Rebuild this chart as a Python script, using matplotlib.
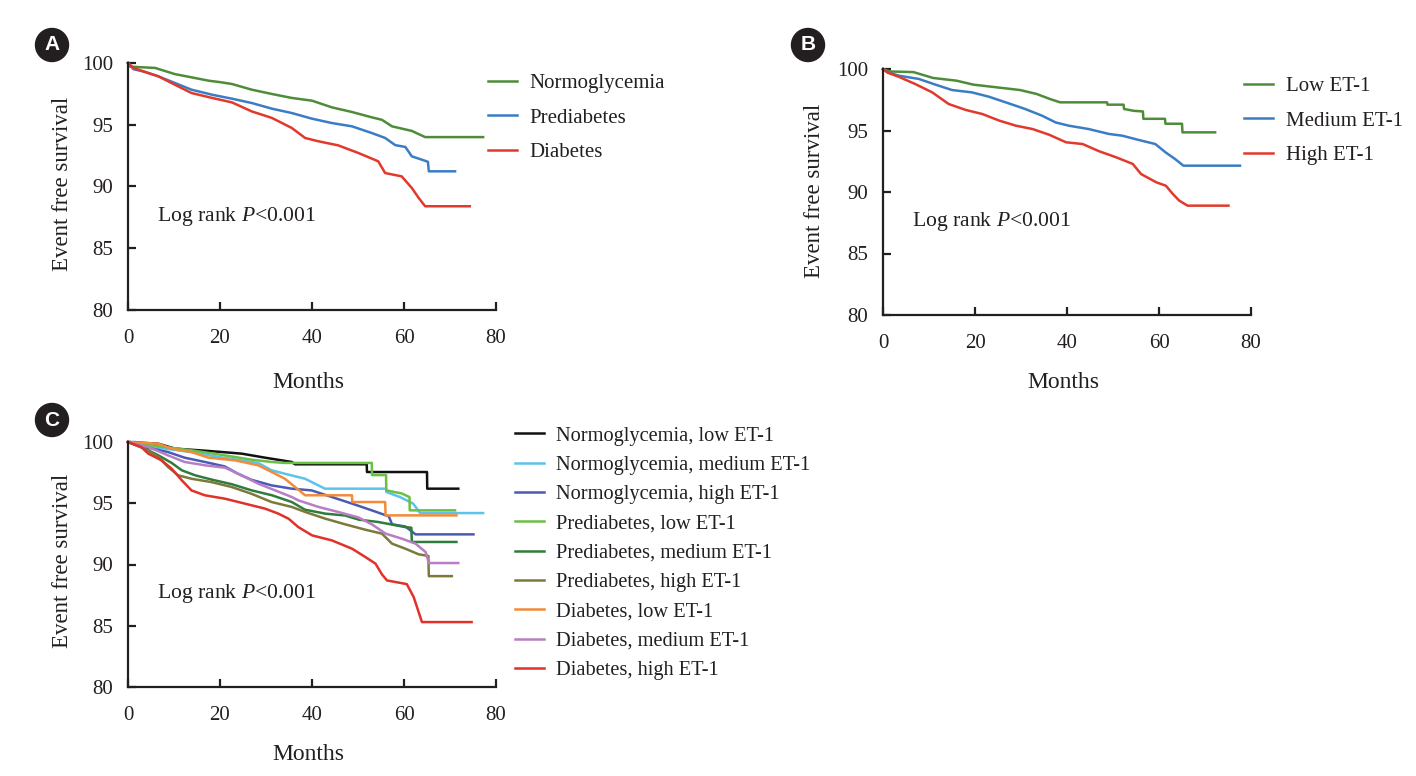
import numpy as np
import matplotlib
matplotlib.use("Agg")
import matplotlib.pyplot as plt
from matplotlib.patches import Circle

plt.rcParams['font.family'] = ['Liberation Serif', 'DejaVu Serif']
plt.rcParams['mathtext.fontset'] = 'custom'
plt.rcParams['mathtext.rm'] = 'Liberation Serif'
plt.rcParams['mathtext.it'] = 'Liberation Serif:italic'

#~~~~~~~~~~~~~~~~~~~~~~~~~1. Panel A : glycemic status~~~~~~~~~~~~~~~~~~~~~~~~~
# (time, survival) vertices; repeated times = vertical steps
a_labels = ["Normoglycemia", "Prediabetes", "Diabetes"]
a_colors = ['#4e8c3a', '#3b7dc4', '#e2392c']
a_t_normo = [0, 0.5, 5.9, 10.2, 13.8, 17.5, 20.0, 22.6, 26.9, 31.3, 35.6, 40.0, 44.3, 48.7, 53.0, 55.2, 57.4, 61.7, 64.6, 77.2]
a_s_normo = [100, 99.7, 99.6, 99.1, 98.84, 98.57, 98.45, 98.3, 97.84, 97.49, 97.17, 96.95, 96.41, 96.03, 95.6, 95.4, 94.87, 94.5, 94.0, 94.0]
a_t_pre = [0, 1.2, 3.5, 6.6, 10.2, 13.8, 18.3, 22.6, 26.9, 31.3, 35.6, 40.0, 44.3, 48.7, 53.0, 55.9, 58.1, 60.3, 61.7, 63.9, 65.2, 65.4, 71.1]
a_s_pre = [100, 99.5, 99.3, 98.92, 98.38, 97.84, 97.43, 97.11, 96.76, 96.3, 95.95, 95.49, 95.14, 94.87, 94.33, 93.93, 93.35, 93.2, 92.44, 92.17, 92.0, 91.23, 91.23]
a_t_dia = [0, 1.2, 3.5, 6.6, 10.2, 13.8, 18.3, 22.6, 26.9, 31.3, 35.6, 38.5, 41.4, 45.7, 50.1, 54.4, 55.9, 59.5, 61.7, 63.2, 64.6, 74.3]
a_s_dia = [100, 99.6, 99.3, 98.92, 98.24, 97.57, 97.17, 96.81, 96.08, 95.55, 94.74, 93.93, 93.66, 93.33, 92.71, 92.04, 91.09, 90.82, 89.88, 89.07, 88.4, 88.4]

#~~~~~~~~~~~~~~~~~~~~~~~~~2. Panel B : ET-1 tertiles~~~~~~~~~~~~~~~~~~~~~~~~~~~~
b_labels = ["Low ET-1", "Medium ET-1", "High ET-1"]
b_colors = ['#4e8c3a', '#3b7dc4', '#e2392c']
b_t_low = [0, 1.5, 6.6, 10.9, 16.0, 19.6, 24.7, 29.8, 33.4, 36.3, 38.5, 48.7, 48.8, 52.3, 52.4, 54.5, 56.5, 56.6, 61.3, 61.4, 65.0, 65.1, 72.2]
b_s_low = [100, 99.8, 99.75, 99.27, 99.05, 98.73, 98.51, 98.29, 97.97, 97.56, 97.29, 97.29, 97.1, 97.1, 96.75, 96.6, 96.55, 95.95, 95.95, 95.55, 95.55, 94.85, 94.85]
b_t_med = [0, 1.0, 3.4, 7.8, 11.4, 15.0, 19.3, 23.0, 27.3, 30.9, 34.6, 37.5, 40.4, 44.7, 49.1, 52.0, 55.6, 59.2, 61.4, 63.5, 65.3, 77.6]
b_s_med = [100, 99.75, 99.46, 99.19, 98.73, 98.29, 98.1, 97.75, 97.21, 96.75, 96.2, 95.66, 95.39, 95.12, 94.72, 94.58, 94.23, 93.9, 93.23, 92.68, 92.14, 92.14]
b_t_high = [0, 1.0, 3.4, 7.0, 10.7, 14.3, 18.0, 21.6, 25.3, 28.9, 32.5, 36.1, 39.8, 43.4, 47.0, 50.7, 54.3, 56.1, 59.4, 61.5, 63.0, 64.4, 66.2, 75.1]
b_s_high = [100, 99.7, 99.37, 98.78, 98.1, 97.15, 96.67, 96.34, 95.8, 95.39, 95.12, 94.66, 94.04, 93.9, 93.31, 92.82, 92.28, 91.46, 90.79, 90.51, 89.84, 89.3, 88.89, 88.89]

#~~~~~~~~~~~~~~~~~~~~~~~~~3. Panel C : combined groups~~~~~~~~~~~~~~~~~~~~~~~~~~~
c_labels = ["Normoglycemia, low ET-1", "Normoglycemia, medium ET-1", "Normoglycemia, high ET-1",
            "Prediabetes, low ET-1", "Prediabetes, medium ET-1", "Prediabetes, high ET-1",
            "Diabetes, low ET-1", "Diabetes, medium ET-1", "Diabetes, high ET-1"]
c_colors = ['#111111', '#5cc3ea', '#4a5bb4', '#6bbf45', '#2f7d3b', '#7b7a3a', '#f28b3b', '#b97dc5', '#e2312a']
c_times = [
    [0, 6.6, 10.2, 17.5, 24.7, 29.8, 35.6, 36.3, 51.9, 51.95, 65.0, 65.05, 71.8],
    [0, 2.9, 8.0, 13.8, 19.6, 24.7, 28.3, 31.2, 34.1, 38.5, 42.8, 56.1, 56.15, 59.1, 62.0, 63.5, 77.2],
    [0, 3.6, 8.7, 12.3, 16.7, 21.0, 23.9, 26.8, 31.2, 35.6, 39.9, 44.3, 48.7, 53.0, 56.7, 57.4, 60.3, 62.5, 75.1],
    [0, 5.1, 13.8, 21.0, 26.8, 31.2, 34.1, 53.0, 53.05, 56.1, 56.15, 59.5, 61.2, 61.25, 71.1],
    [0, 3.6, 6.6, 9.5, 11.7, 14.6, 18.3, 22.6, 26.9, 31.3, 35.6, 38.5, 42.9, 47.2, 50.2, 54.4, 60.2, 61.6, 61.7, 71.4],
    [0, 3.6, 6.6, 8.7, 10.9, 13.8, 18.1, 22.5, 26.8, 31.2, 35.6, 38.5, 42.9, 47.2, 51.6, 55.2, 57.4, 60.3, 63.2, 65.3, 65.4, 70.4],
    [0, 6.6, 9.5, 13.8, 17.5, 23.3, 28.3, 32.0, 34.1, 36.3, 38.5, 48.7, 48.75, 55.9, 56.0, 71.4],
    [0, 4.4, 8.7, 12.3, 16.7, 21.1, 24.7, 28.3, 32.0, 35.6, 37.0, 41.4, 45.7, 50.1, 53.0, 56.0, 59.6, 62.5, 64.7, 65.4, 71.8],
    [0, 2.9, 4.4, 7.3, 9.5, 11.7, 13.8, 16.7, 21.1, 25.4, 29.8, 32.7, 34.9, 37.0, 40.0, 44.3, 48.7, 51.6, 53.8, 55.2, 56.3, 60.6, 62.1, 63.9, 74.7],
]
c_surv = [
    [100, 99.86, 99.46, 99.27, 99.05, 98.72, 98.37, 98.18, 98.18, 97.55, 97.55, 96.19, 96.19],
    [100, 99.73, 99.46, 99.18, 98.78, 98.5, 98.29, 97.69, 97.41, 97.0, 96.19, 96.19, 95.92, 95.51, 94.97, 94.2, 94.2],
    [100, 99.59, 99.18, 98.72, 98.37, 98.01, 97.41, 96.92, 96.46, 96.19, 96.05, 95.51, 94.97, 94.42, 93.93, 93.28, 93.1, 92.46, 92.46],
    [100, 99.73, 99.32, 98.91, 98.56, 98.37, 98.29, 98.29, 97.3, 97.3, 96.05, 95.8, 95.5, 94.42, 94.42],
    [100, 99.46, 98.91, 98.29, 97.69, 97.28, 96.92, 96.55, 96.05, 95.65, 95.1, 94.47, 94.15, 94.0, 93.66, 93.47, 93.06, 93.0, 91.84, 91.84],
    [100, 99.46, 98.78, 97.96, 97.28, 97.0, 96.73, 96.33, 95.78, 95.1, 94.7, 94.29, 93.74, 93.28, 92.84, 92.52, 91.7, 91.29, 90.83, 90.7, 89.05, 89.05],
    [100, 99.86, 99.46, 99.18, 98.72, 98.5, 98.1, 97.41, 97.0, 96.33, 95.65, 95.65, 95.1, 95.1, 94.01, 94.01],
    [100, 99.59, 98.91, 98.37, 98.1, 97.9, 97.28, 96.6, 96.05, 95.51, 95.24, 94.7, 94.29, 93.84, 93.28, 92.52, 92.1, 91.7, 91.02, 90.12, 90.12],
    [100, 99.59, 99.05, 98.5, 97.82, 96.87, 96.05, 95.65, 95.37, 94.97, 94.56, 94.15, 93.74, 93.06, 92.38, 91.97, 91.29, 90.61, 90.07, 89.2, 88.7, 88.4, 87.35, 85.3, 85.3],
]

x_ticks = [0, 20, 40, 60, 80]
y_ticks = [80, 85, 90, 95, 100]

#~~~~~~~~~~~~~~~~~~~~~~~~~4. Figure~~~~~~~~~~~~~~~~~~~~~~~~~~~~~~~~~~~~~~~~~~~~~~
W, H = 1416, 776
fig = plt.figure(figsize=(W/100, H/100), dpi=100)
TXT = '#231f20'
LW = 1.8

def px_axes(l, t, r, b):
    return fig.add_axes([l/W, 1 - b/H, (r - l)/W, (b - t)/H])

def style(ax, ylab_xy, xlab_y):
    ax.set_xlim(0, 80)
    ax.set_ylim(80, 100)
    ax.set_xticks(x_ticks)
    ax.set_yticks(y_ticks)
    for s in ['top', 'right']:
        ax.spines[s].set_visible(False)
    for s in ['left', 'bottom']:
        ax.spines[s].set_linewidth(1.6)
        ax.spines[s].set_color(TXT)
    ax.tick_params(direction='in', length=6, width=1.6, labelsize=15, colors=TXT)
    ax.tick_params(axis='x', pad=14)
    ax.tick_params(axis='y', pad=10.5)
    ax.set_ylabel("Event free survival", fontsize=16.5, color=TXT, va='center')
    ax.yaxis.set_label_coords(*ylab_xy)
    ax.set_xlabel("Months", fontsize=17, color=TXT, va='center')
    ax.xaxis.set_label_coords(0.49, xlab_y)
    ax.text(6.3, 87.6, r"Log rank $P$<0.001", fontsize=15.6, color=TXT, va='center')

def badge(x, y, letter):
    fig.add_artist(Circle((x/100, (H - y)/100), 0.165, transform=fig.dpi_scale_trans,
                          color='#231f20', zorder=5))
    fig.text(x/W, 1 - y/H, letter, color='white', ha='center', va='center',
             fontsize=15, fontweight='bold', family='Liberation Sans', zorder=6)

def legend(ax, anchor, spacing, fs=15):
    ax.legend(loc='upper left', bbox_to_anchor=anchor, frameon=False, fontsize=fs,
              borderpad=0, borderaxespad=0, handlelength=1.4, handletextpad=0.6,
              labelspacing=spacing, labelcolor=TXT)

# A
axA = px_axes(128, 63, 496, 310)
for t, s, c, lab in zip([a_t_normo, a_t_pre, a_t_dia], [a_s_normo, a_s_pre, a_s_dia], a_colors, a_labels):
    axA.plot(t, s, color=c, lw=LW, label=lab, clip_on=False)
style(axA, (-0.179, 0.512), -0.295)
legend(axA, (0.978, 0.957), 0.72)
badge(52, 45, 'A')

# B
axB = px_axes(883, 69, 1251, 315)
for t, s, c, lab in zip([b_t_low, b_t_med, b_t_high], [b_s_low, b_s_med, b_s_high], b_colors, b_labels):
    axB.plot(t, s, color=c, lw=LW, label=lab, clip_on=False)
style(axB, (-0.185, 0.505), -0.276)
legend(axB, (0.981, 0.97), 0.72)
badge(808, 45, 'B')

# C
axC = px_axes(128, 442, 496, 687)
for t, s, c, lab in zip(c_times, c_surv, c_colors, c_labels):
    axC.plot(t, s, color=c, lw=LW, label=lab, clip_on=False)
style(axC, (-0.179, 0.516), -0.277)
legend(axC, (1.052, 1.064), 0.49, fs=14.7)
badge(52, 420, 'C')

plt.savefig('out.png', dpi=100)
print("Saved: out.png")
